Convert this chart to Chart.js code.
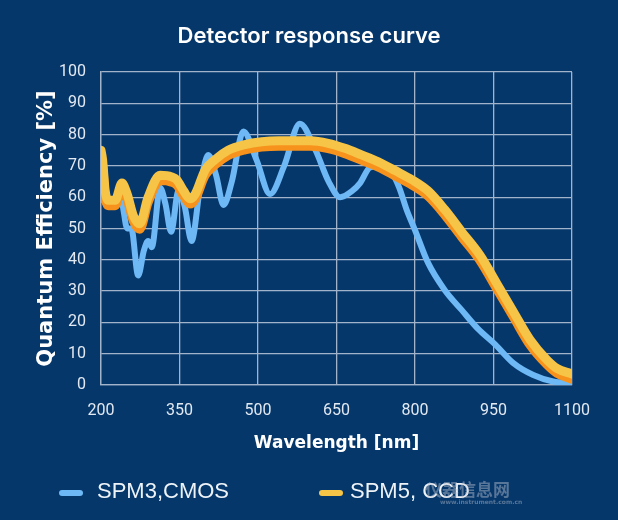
<!DOCTYPE html>
<html>
<head>
<meta charset="utf-8">
<script src="https://cdn.jsdelivr.net/npm/chart.js@4.4.1/dist/chart.umd.min.js"></script>
<style>
    html, body { margin: 0; padding: 0; background: #05376b; }
    #wrap { width: 618px; height: 520px; position: relative; }
</style>
</head>
<body>
<div id="wrap"><canvas id="qeChart"></canvas></div>
<script>
const qeChart = document.getElementById('qeChart').getContext('2d');

// SPM3, CMOS
const cmosWavelength = [200, 215, 228, 240, 250, 258, 271, 282, 290, 297, 313, 323, 334, 348, 360, 373, 390, 405, 420, 434, 450, 472, 497, 523, 550, 580, 610, 635, 657, 680, 695, 714, 735, 755, 770, 784, 800, 825, 857, 889, 920, 953, 988, 1026, 1064, 1100];
const cmosQE = [60, 57, 59, 58, 50, 50, 35, 43, 46, 44, 63, 58, 49, 62, 57, 46, 64, 73.5, 67, 57.5, 65, 81, 72, 61, 70, 83.5, 75, 65, 60, 62, 64.5, 69.5, 70, 68, 63, 56, 49.5, 39, 30.3, 24, 18, 13, 7, 3.2, 1.1, 0.5];

// SPM5, CCD (yellow line and its orange edge)
const ccdWavelength = [200, 203, 208, 214, 227, 240, 250, 262, 274, 290, 313, 335, 345, 358, 370, 380, 399, 418, 443, 475, 507, 540, 571, 600, 634, 666, 698, 730, 762, 795, 825, 857, 889, 924, 956, 988, 1020, 1052, 1071, 1100];
const ccdQE = [75, 72, 62, 59, 59, 64.5, 61, 54, 51.5, 60, 67, 66.5, 65.5, 62, 59.5, 61, 68.7, 72, 75, 76.8, 77.7, 78, 78, 78, 77.2, 75.6, 73.5, 71.3, 68.5, 65.5, 62, 56, 49, 41.5, 32.5, 23.4, 14.4, 8, 5.3, 3.5];
const ccdEdgeQE = [73.5, 70.5, 60.3, 57.3, 57.3, 62.8, 59.3, 52.3, 49.8, 58.3, 65.3, 64.8, 63.8, 60.3, 57.8, 59.3, 67, 70.3, 73.3, 75.1, 76, 76.3, 76.3, 76.3, 75.5, 73.9, 71.8, 69.6, 66.8, 63.8, 60.3, 54.3, 47.3, 39.8, 30.8, 21.7, 12.7, 6.5, 3.8, 1.8];

const seriesLabels = ['SPM3,CMOS', 'SPM5, CCD'];
const xTicks = [200, 350, 500, 650, 800, 950, 1100];

const toPoints = (xs, ys) => xs.map((x, i) => ({ x: x, y: ys[i] }));

const gridColor = '#a3b4ca';

const bottomLegend = {
    id: 'bottomLegend',
    afterDraw(chart, args, opts) {
        const { ctx } = chart;
        ctx.save();
        opts.items.forEach((item) => {
            ctx.fillStyle = item.color;
            ctx.beginPath();
            ctx.roundRect(item.boxX, 490, 24, 6, 3);
            ctx.fill();
            ctx.font = '22px "Liberation Sans", Arial, sans-serif';
            ctx.fillStyle = '#eef3f8';
            ctx.textAlign = 'left';
            ctx.textBaseline = 'middle';
            ctx.fillText(item.text, item.textX, 492);
        });

        // faint watermark
        ctx.fillStyle = 'rgba(190, 196, 206, 0.45)';
        ctx.font = 'bold 17px "Noto Sans CJK SC", sans-serif';
        ctx.fillText('仪器信息网', 425, 490);
        ctx.font = 'bold 6px "DejaVu Sans", sans-serif';
        ctx.fillText('www.instrument.com.cn', 440, 502);
        ctx.restore();
    }
};

new Chart(qeChart, {
    type: 'line',
    data: {
        datasets: [{
            label: seriesLabels[0],
            data: toPoints(cmosWavelength, cmosQE),
            borderColor: '#6db8f5',
            borderWidth: 6,
            pointRadius: 0,
            tension: 0.4,
            cubicInterpolationMode: 'monotone',
            borderCapStyle: 'round',
            borderJoinStyle: 'round',
            order: 3
        },
        {
            label: 'edge',
            data: toPoints(ccdWavelength, ccdEdgeQE),
            borderColor: '#f7921c',
            borderWidth: 9,
            pointRadius: 0,
            tension: 0.4,
            cubicInterpolationMode: 'monotone',
            borderCapStyle: 'round',
            borderJoinStyle: 'round',
            order: 2
        },
        {
            label: seriesLabels[1],
            data: toPoints(ccdWavelength, ccdQE),
            borderColor: '#f6c446',
            borderWidth: 9,
            pointRadius: 0,
            tension: 0.4,
            cubicInterpolationMode: 'monotone',
            borderCapStyle: 'round',
            borderJoinStyle: 'round',
            order: 1
        }]
    },
    plugins: [bottomLegend],
    options: {
        responsive: true,
        maintainAspectRatio: false,
        animation: false,
        layout: {
            padding: { left: 0, right: 0, top: 0, bottom: 60 }
        },
        plugins: {
            legend: { display: false },
            tooltip: { enabled: false },
            title: {
                display: true,
                text: 'Detector response curve',
                color: '#ffffff',
                font: {
                    family: 'Inter, sans-serif',
                    size: 22,
                    weight: '600',
                    lineHeight: 1.2
                },
                padding: { top: 23, bottom: 22.6 }
            },
            bottomLegend: {
                items: [
                    { text: seriesLabels[0], color: '#6db8f5', boxX: 59, textX: 97 },
                    { text: seriesLabels[1], color: '#f6c446', boxX: 319, textX: 350 }
                ]
            }
        },
        scales: {
            x: {
                type: 'linear',
                min: 200,
                max: 1100,
                afterBuildTicks: (scale) => {
                    scale.ticks = xTicks.map((v) => ({ value: v }));
                },
                afterFit: (scale) => {
                    scale.height = 75;
                    scale.paddingRight = 46;
                },
                grid: {
                    color: gridColor,
                    lineWidth: 1.3,
                    drawTicks: false
                },
                border: { color: gridColor, width: 1.3 },
                ticks: {
                    color: '#e3e9f1',
                    padding: 16,
                    maxRotation: 0,
                    autoSkip: false,
                    font: { family: 'Roboto, sans-serif', size: 16 },
                    callback: (value) => String(value)
                },
                title: {
                    display: true,
                    text: 'Wavelength [nm]',
                    color: '#ffffff',
                    font: { family: '"DejaVu Sans", sans-serif', size: 17, weight: 'bold', lineHeight: 1.2 },
                    padding: { top: 0, bottom: 6 }
                }
            },
            y: {
                min: 0,
                max: 100,
                afterFit: (scale) => { scale.width = 101; },
                grid: {
                    color: gridColor,
                    lineWidth: 1.3,
                    drawTicks: false
                },
                border: { color: gridColor, width: 1.3 },
                ticks: {
                    stepSize: 10,
                    color: '#e3e9f1',
                    padding: 15,
                    font: { family: 'Roboto, sans-serif', size: 16 }
                },
                title: {
                    display: true,
                    text: 'Quantum Efficiency [%]',
                    color: '#ffffff',
                    font: { family: '"DejaVu Sans", sans-serif', size: 21, weight: 'bold', lineHeight: 1.2 },
                    padding: { top: 34, bottom: 0 }
                }
            }
        }
    }
});
</script>
</body>
</html>
